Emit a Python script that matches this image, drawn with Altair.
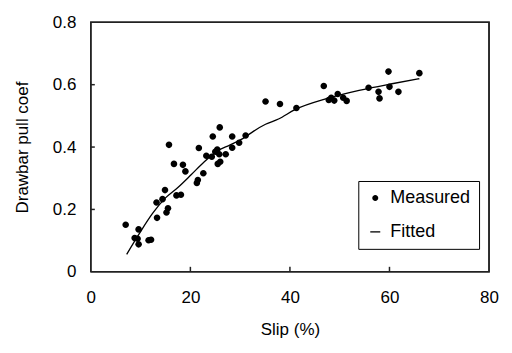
import altair as alt
import pandas as pd

# Measured points (slip %, drawbar pull coefficient)
slip_measured = [7.0, 8.8, 9.4, 9.6, 9.6, 11.6, 12.1, 13.3, 13.2, 14.4, 14.9, 15.2, 15.5,
                 15.7, 16.7, 17.2, 18.1, 18.5, 19.0, 21.3, 21.5, 21.7, 22.6, 23.2, 24.3,
                 24.5, 25.0, 25.4, 25.5, 26.0, 25.9, 25.8, 27.1, 28.4, 28.4, 29.8, 31.1,
                 35.1, 38.0, 41.3, 46.8, 47.8, 48.3, 48.9, 49.6, 50.7, 51.4, 55.8, 57.8,
                 58.0, 59.8, 60.0, 61.8, 66.0]
pull_measured = [0.151, 0.108, 0.106, 0.136, 0.088, 0.101, 0.103, 0.173, 0.222, 0.233, 0.262, 0.190, 0.204,
                 0.407, 0.346, 0.245, 0.247, 0.343, 0.322, 0.285, 0.294, 0.397, 0.316, 0.372, 0.369,
                 0.434, 0.385, 0.392, 0.346, 0.353, 0.463, 0.377, 0.377, 0.434, 0.398, 0.414, 0.437,
                 0.546, 0.538, 0.525, 0.596, 0.551, 0.558, 0.549, 0.570, 0.558, 0.548, 0.590, 0.577,
                 0.556, 0.642, 0.593, 0.577, 0.637]

# Fitted curve
slip_fitted = [7.2, 9.8, 12.4, 15.0, 17.6, 20.2, 22.8, 25.4, 28.0, 30.6, 32.8, 35.1, 37.7,
               41.0, 47.5, 53.9, 60.5, 66.0]
pull_fitted = [0.056, 0.124, 0.187, 0.237, 0.272, 0.312, 0.353, 0.387, 0.407, 0.428, 0.452, 0.473, 0.490,
               0.520, 0.556, 0.582, 0.603, 0.619]

x_ticks = [0, 20, 40, 60, 80]
y_ticks = [0, 0.2, 0.4, 0.6, 0.8]
series_names = ["Measured", "Fitted"]

W, H = 399, 250
FONT = "Liberation Sans"
FS = 17
INK = "#222222"

measured = pd.DataFrame({"slip": slip_measured, "pull": pull_measured, "series": series_names[0]})
fitted = pd.DataFrame({"slip": slip_fitted, "pull": pull_fitted})

# plot frame along the axis extents
x0, x1 = x_ticks[0], x_ticks[-1]
y0, y1 = y_ticks[0], y_ticks[-1]
frame_df = pd.DataFrame({"slip": [x0, x1, x1, x0, x0], "pull": [y0, y0, y1, y1, y0],
                         "o": list(range(5))})

# short inward tick marks (5 px up from the x axis, 4 px in from the y axis)
dy = (y1 - y0) * 5 / H
dx = (x1 - x0) * 4 / W
tick_rows = []
for i, t in enumerate(x_ticks[1:-1]):
    tick_rows += [{"slip": t, "pull": y0, "g": f"x{i}", "o": 0},
                  {"slip": t, "pull": y0 + dy, "g": f"x{i}", "o": 1}]
for i, t in enumerate(y_ticks[1:-1]):
    tick_rows += [{"slip": x0, "pull": t, "g": f"y{i}", "o": 0},
                  {"slip": x0 + dx, "pull": t, "g": f"y{i}", "o": 1}]
tick_df = pd.DataFrame(tick_rows)

xscale = alt.Scale(domain=[x0, x1], nice=False, zero=False)
yscale = alt.Scale(domain=[y0, y1], nice=False, zero=False)

xaxis = alt.Axis(values=x_ticks, title="Slip (%)", grid=False, ticks=False, domain=False,
                 labelFlush=False, labelOverlap=False, labelPadding=18, titlePadding=16,
                 labelFontSize=FS, titleFontSize=FS, labelFont=FONT, titleFont=FONT,
                 labelColor="black", titleColor="black", titleFontWeight="normal")
yaxis = alt.Axis(values=y_ticks, format="~g", title="Drawbar pull coef", grid=False, ticks=False,
                 domain=False, labelFlush=False, labelOverlap=False, labelPadding=15, titlePadding=21,
                 labelFontSize=FS, titleFontSize=FS, labelFont=FONT, titleFont=FONT,
                 labelColor="black", titleColor="black", titleFontWeight="normal")

CIRCLE = "M-0.6,0A0.6,0.6,0,1,0,0.6,0A0.6,0.6,0,1,0,-0.6,0Z"
DASH = "M-1,-0.13L1,-0.13L1,0.13L-1,0.13Z"

frame = alt.Chart(frame_df).mark_line(color=INK, strokeWidth=1.5).encode(
    x=alt.X("slip:Q", scale=xscale, axis=xaxis),
    y=alt.Y("pull:Q", scale=yscale, axis=yaxis),
    order="o:Q",
)

ticks = alt.Chart(tick_df).mark_line(color=INK, strokeWidth=1.5).encode(
    x=alt.X("slip:Q", scale=xscale, axis=xaxis),
    y=alt.Y("pull:Q", scale=yscale, axis=yaxis),
    detail="g:N",
    order="o:Q",
)

line = alt.Chart(fitted).mark_line(color="black", strokeWidth=1.3, interpolate="monotone").encode(
    x=alt.X("slip:Q", scale=xscale, axis=xaxis),
    y=alt.Y("pull:Q", scale=yscale, axis=yaxis),
)

points = alt.Chart(measured).mark_point(filled=True, color="black", opacity=1, size=121).encode(
    x=alt.X("slip:Q", scale=xscale, axis=xaxis),
    y=alt.Y("pull:Q", scale=yscale, axis=yaxis),
    shape=alt.Shape("series:N",
                    scale=alt.Scale(domain=series_names, range=[CIRCLE, DASH]),
                    legend=alt.Legend(title=None, orient="none", legendX=268, legendY=159,
                                      strokeColor="black", fillColor="white", padding=8,
                                      rowPadding=16, labelFontSize=18, labelFont=FONT,
                                      labelColor="black", symbolSize=100, labelOffset=6,
                                      symbolFillColor="black")),
)

chart = alt.layer(frame, ticks, line, points).properties(
    width=W, height=H,
).configure_view(stroke=INK, strokeWidth=1.5)

chart.save("out.html", embed_options={"renderer": "svg", "actions": False})
